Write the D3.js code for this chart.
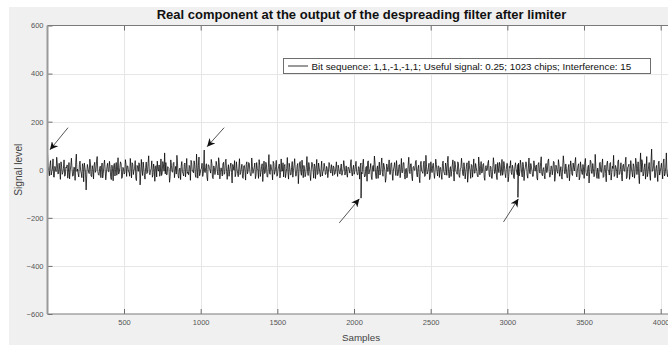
<!DOCTYPE html>
<html>
<head>
<meta charset="utf-8">
<script src="https://cdn.jsdelivr.net/npm/d3@7"></script>
<style>
  html, body { margin: 0; padding: 0; background: #ffffff; }
  svg { display: block; font-family: "Liberation Sans", Arial, Helvetica, sans-serif; }
</style>
</head>
<body>
<div id="chart"></div>
<script>
// ---------------- DATA ----------------
const titleText = "Real component at the output of the despreading filter after limiter";
const xLabel = "Samples";
const yLabel = "Signal level";
const legendLabel = "Bit sequence: 1,1,-1,-1,1; Useful signal: 0.25; 1023 chips; Interference: 15";

const xTicks = [500, 1000, 1500, 2000, 2500, 3000, 3500, 4000];
const yTicks = [-600, -400, -200, 0, 200, 400, 600];
const xDomain = [1, 4096];
const yDomain = [-600, 600];

// despread peaks (one per bit)
const peakSamples = [1, 1023, 2046, 3069];
const peakValues  = [71, 82, -118, -115];

// noise: set A every 8 samples from sample 5,
// set B every 8 samples from sample 9 (interleaved)
const noiseStep = 8;
const noiseStartA = 5;
const noiseValuesA = [
  12,-25,38,-8,45,-31,5,52,-18,27,-40,15,-12,41,-22,8,-35,30,-5,48,-27,11,-44,65,3,-30,36,-14,25,-50,9,-84,
  22,-10,44,-26,17,-38,31,-3,55,-20,6,-33,28,-15,40,-42,13,-7,35,-29,19,-46,26,2,-23,50,-12,33,-36,10,-18,42,
  -28,15,-9,47,-34,21,-2,38,-45,12,29,-63,43,-24,7,-39,32,-11,58,-21,4,-31,24,-48,17,36,-6,-27,45,-13,20,70,
  30,-19,9,-52,41,-8,26,-33,14,60,-25,3,-41,34,-16,22,-30,47,-10,18,-44,29,-4,37,-22,65,-35,53,-15,6,-28,39,
  -12,25,-46,19,-1,43,-32,16,-20,35,-9,50,-38,8,-26,31,-14,44,-40,21,-6,28,-55,13,38,-18,4,-29,46,-11,23,-36,
  18,-43,33,-7,26,-24,49,-15,10,-37,30,-2,42,-28,14,-49,36,-12,20,-31,63,-19,7,-42,27,-8,39,-23,15,-34,45,-5,
  -30,22,-14,51,-39,9,-21,34,-3,46,-27,17,-58,28,-10,40,-33,6,-19,55,-24,12,-45,31,-1,24,-37,43,-16,8,-29,36,
  -9,27,-20,14,-33,30,-6,21,-25,11,-15,33,-28,5,-18,24,-12,38,-22,16,-31,9,-14,42,-26,19,-8,35,-20,13,-39,28,
  -17,44,-30,10,-48,37,-5,26,-41,18,57,-22,3,-36,32,-13,49,-27,15,-52,24,-8,41,-19,29,-44,12,-3,38,-25,20,-33,
  47,-11,30,-39,6,-21,52,-16,25,-46,14,-2,39,-30,19,-54,35,-9,23,-28,60,-18,8,-41,33,-12,27,-36,44,-7,16,-32,
  9,-40,36,-15,28,-23,56,-34,13,-6,41,-47,21,-11,33,-26,4,48,-19,29,-38,15,-52,37,-3,22,-31,45,-14,10,-27,53,
  -21,34,-9,26,-44,17,-1,39,-29,12,-36,50,-16,23,-41,7,31,-24,43,-12,18,-33,27,-50,14,38,-20,5,-37,29,-10,22,
  -26,40,-13,31,-45,8,24,-35,49,-17,11,-28,37,-6,20,-43,30,-14,54,-25,9,-38,26,-2,45,-31,16,-21,35,-48,19,-8,
  42,-27,13,-39,58,-15,24,-33,8,-46,37,-19,28,-5,51,-30,17,-42,33,-10,22,-36,47,-23,11,-55,40,-14,26,-29,64,-18,
  7,-37,31,-11,45,-28,19,-50,36,-4,27,-43,15,60,-22,9,-34,41,-16,29,-47,23,-7,52,-31,14,-40,38,-12,25,-35,48,
  -20,33,-58,70,42,-26,10,-39,55,-14,30,-44,86,-3,40,-32,18,-49,36,-9,27,-38,45,-17,70,-29,12,-41,34,-22,50,-15
];
const noiseStartB = 9;
const noiseValuesB = [
  -5,18,-22,3,-30,14,-8,25,-15,-2,33,-19,6,-27,11,20,-12,-38,16,4,-24,9,31,-7,-17,22,-3,-33,13,28,-10,-20,
  7,-16,24,-29,2,19,-11,36,-6,-23,15,8,-34,21,-1,-14,27,-9,12,-41,5,17,-26,30,-4,-18,10,25,-31,3,-13,21,
  16,-8,-27,11,29,-20,4,-35,18,-7,23,-14,-2,32,-25,9,-16,26,-11,-3,37,-21,6,14,-30,1,20,-12,-24,34,-6,-17,
  -22,13,5,-28,19,-10,31,-4,-18,24,-35,7,15,-9,-26,28,3,-15,-21,12,39,-6,-13,20,-32,8,17,-25,2,27,-16,-5,
  10,-30,21,4,-14,26,-37,9,-3,18,-22,30,-12,-6,24,-19,35,-8,1,-27,15,-11,22,-2,-29,33,-15,11,-20,7,-33,16,
  -4,23,-17,30,-9,-25,14,-2,28,-21,6,-36,19,-10,25,-3,-16,31,-28,8,-13,22,-5,35,-19,12,-27,3,24,-11,-7,29,
  14,-33,6,-12,27,-21,10,-31,19,-4,-15,26,-9,34,-23,2,18,-29,11,-6,30,-17,-1,23,-35,13,7,-20,28,-14,4,-26,
  -3,12,-18,6,-10,21,-14,2,16,-20,7,-5,19,-13,9,-23,4,15,-8,-17,11,-2,24,-12,3,-19,14,-6,-21,8,17,-11,
  23,-9,-26,14,32,-18,5,-30,11,-7,28,-37,16,2,-22,19,-11,27,-4,-33,13,9,-19,25,-14,-1,30,-24,7,-16,21,-6,
  -13,29,-20,3,-34,17,-8,24,-27,10,-2,33,-18,6,-29,21,-5,-15,36,-23,12,-9,27,-31,4,18,-12,-3,22,-26,15,9,
  -18,26,-7,-22,13,31,-15,1,-28,20,-11,35,-6,-19,24,-32,8,14,-25,3,-10,29,-21,11,-36,17,5,-14,26,-8,-30,19,
  6,-14,22,-31,10,-4,27,-19,15,-35,3,21,-9,-26,30,-12,18,-6,-23,34,-16,1,25,-28,9,-11,19,-33,12,4,-21,28,
  -9,21,-30,15,-3,33,-22,7,-13,26,-5,-27,17,11,-34,23,-8,29,-19,2,-24,18,-12,36,-7,-20,14,-2,31,-25,10,-15,
  20,-5,-29,12,26,-17,4,-33,22,-9,15,-24,8,30,-14,-3,25,-31,10,-20,3,28,-11,-26,19,-7,33,-16,5,-23,12,-36,
  -11,27,-6,21,-32,9,-15,24,-3,-22,30,-13,5,-28,18,-8,34,-20,1,-25,16,-4,29,-37,11,23,-17,7,-30,14,-9,26,
  4,-24,15,-10,31,-18,25,-5,-29,12,-20,35,-7,17,-33,6,-14,28,-22,9,-3,32,-26,11,-15,-4,38,-19,22,-12,-27,18
];

// annotation arrows: tail (sample, level) -> tip (sample, level)
const arrowTailSamples = [135, 1153, 1904, 2975];
const arrowTailValues  = [175, 175, -221, -217];
const arrowTipSamples  = [17, 1042, 2035, 3072];
const arrowTipValues   = [83, 96, -121, -121];

// ---------------- CHART ----------------
const W = 668, H = 345;
const plot = { left: 47.5, top: 25.5, right: 675.4, bottom: 314 };

const svg = d3.select("#chart").append("svg")
  .attr("width", W).attr("height", H);

// figure background
svg.append("rect").attr("x", 9).attr("y", 7).attr("width", W - 9).attr("height", H - 7)
  .attr("fill", "#f0f0f0");

const x = d3.scaleLinear().domain(xDomain).range([plot.left, plot.right]);
const y = d3.scaleLinear().domain(yDomain).range([plot.bottom, plot.top]);

// axes area
svg.append("rect").attr("x", plot.left).attr("y", plot.top)
  .attr("width", plot.right - plot.left).attr("height", plot.bottom - plot.top)
  .attr("fill", "#ffffff");

// grid
const grid = svg.append("g").attr("stroke", "#e6e6e6").attr("stroke-width", 1);
grid.selectAll(".gx").data(xTicks).join("line")
  .attr("x1", d => Math.round(x(d)) + 0.5).attr("x2", d => Math.round(x(d)) + 0.5)
  .attr("y1", plot.top).attr("y2", plot.bottom);
grid.selectAll(".gy").data(yTicks.filter(d => d > yDomain[0] && d < yDomain[1])).join("line")
  .attr("x1", plot.left).attr("x2", plot.right)
  .attr("y1", d => Math.round(y(d)) + 0.5).attr("y2", d => Math.round(y(d)) + 0.5);

// signal
const points = noiseValuesA.map((v, i) => ({ s: noiseStartA + i * noiseStep, v }))
  .concat(noiseValuesB.map((v, i) => ({ s: noiseStartB + i * noiseStep, v })))
  .concat(peakSamples.map((s, i) => ({ s, v: peakValues[i] })))
  .sort((a, b) => a.s - b.s);

svg.append("clipPath").attr("id", "clip").append("rect")
  .attr("x", plot.left).attr("y", plot.top)
  .attr("width", plot.right - plot.left).attr("height", plot.bottom - plot.top);

svg.append("path").datum(points)
  .attr("clip-path", "url(#clip)")
  .attr("fill", "none").attr("stroke", "#000000").attr("stroke-width", 0.75)
  .attr("stroke-linejoin", "miter")
  .attr("d", d3.line().x(d => x(d.s)).y(d => y(d.v)));

// axes
const axisColor = "#555555";
const xAxisB = d3.axisBottom(x).tickValues(xTicks).tickSize(-5).tickPadding(6).tickFormat(d3.format("d"));
const gxb = svg.append("g").attr("transform", `translate(0,${plot.bottom})`).call(xAxisB);
const xAxisT = d3.axisTop(x).tickValues(xTicks).tickSize(-5).tickFormat("");
const gxt = svg.append("g").attr("transform", `translate(0,${plot.top})`).call(xAxisT);
const yAxisL = d3.axisLeft(y).tickValues(yTicks).tickSize(-5).tickPadding(4).tickFormat(d3.format("d"));
const gyl = svg.append("g").attr("transform", `translate(${plot.left},0)`).call(yAxisL);

[gxb, gxt, gyl].forEach(g => {
  g.select(".domain").remove();
  g.selectAll(".tick line").attr("stroke", "#6e6e6e");
  g.selectAll(".tick text").attr("fill", axisColor)
    .style("font-size", "7.5px").style("font-family", "Liberation Sans, Arial, sans-serif");
});
gyl.selectAll(".tick text").attr("dy", "0.32em");

// axis box lines
svg.append("line").attr("x1", plot.left).attr("x2", plot.right)
  .attr("y1", plot.bottom).attr("y2", plot.bottom).attr("stroke", "#7a7a7a").attr("stroke-width", 1);
svg.append("line").attr("x1", plot.left).attr("x2", plot.right)
  .attr("y1", plot.top).attr("y2", plot.top).attr("stroke", "#7a7a7a").attr("stroke-width", 1);
svg.append("line").attr("x1", plot.left).attr("x2", plot.left)
  .attr("y1", plot.top).attr("y2", plot.bottom).attr("stroke", "#9a9a9a").attr("stroke-width", 2);

// labels
svg.append("text").attr("x", (plot.left + plot.right) / 2).attr("y", 18.5)
  .attr("text-anchor", "middle").attr("fill", "#111")
  .style("font-size", "13px").style("font-weight", "bold")
  .text(titleText);

svg.append("text").attr("x", 361).attr("y", 340.5)
  .attr("text-anchor", "middle").attr("fill", "#444")
  .style("font-size", "9.8px").text(xLabel);

svg.append("text").attr("transform", `translate(21.5,${y(0)}) rotate(-90)`)
  .attr("text-anchor", "middle").attr("fill", "#444")
  .style("font-size", "10.2px").text(yLabel);

// arrows
const defs = svg.append("defs");
defs.append("marker").attr("id", "ah").attr("viewBox", "0 0 10 10")
  .attr("refX", 10).attr("refY", 5).attr("markerWidth", 8).attr("markerHeight", 8)
  .attr("markerUnits", "userSpaceOnUse").attr("orient", "auto")
  .append("path").attr("d", "M0,0 L10,5 L0,10 L3,5 Z").attr("fill", "#111");

svg.append("g").selectAll("line").data(arrowTailSamples).join("line")
  .attr("x1", (d, i) => x(d)).attr("y1", (d, i) => y(arrowTailValues[i]))
  .attr("x2", (d, i) => x(arrowTipSamples[i])).attr("y2", (d, i) => y(arrowTipValues[i]))
  .attr("stroke", "#555").attr("stroke-width", 1)
  .attr("marker-end", "url(#ah)");

// legend
const lg = svg.append("g");
lg.append("rect").attr("x", 283.5).attr("y", 58.5).attr("width", 367).attr("height", 15)
  .attr("fill", "#fff").attr("stroke", "#6e6e6e").attr("stroke-width", 1);
lg.append("line").attr("x1", 288).attr("x2", 308).attr("y1", 66).attr("y2", 66)
  .attr("stroke", "#000").attr("stroke-width", 0.8);
lg.append("text").attr("x", 311.5).attr("y", 69.5).attr("fill", "#111")
  .style("font-size", "9.8px").text(legendLabel);
</script>
</body>
</html>
